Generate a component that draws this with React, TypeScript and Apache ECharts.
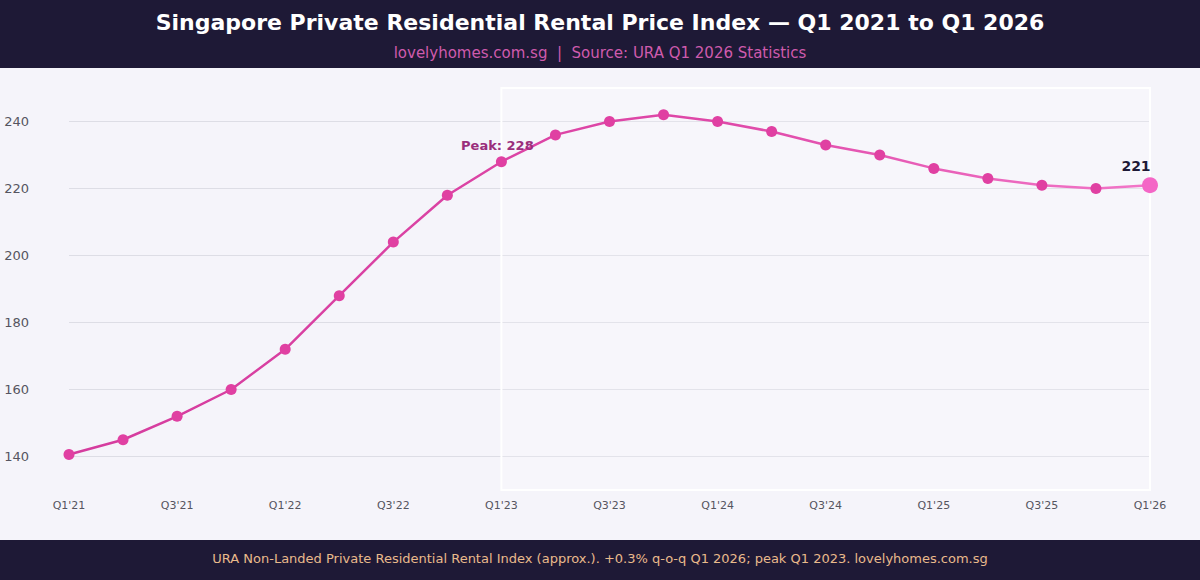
import React, { useEffect, useRef } from "react";
import * as echarts from "echarts";

// Quarterly rental index, Q1 2021 – Q1 2026
const quarters = [
  "Q1'21", "Q2'21", "Q3'21", "Q4'21",
  "Q1'22", "Q2'22", "Q3'22", "Q4'22",
  "Q1'23", "Q2'23", "Q3'23", "Q4'23",
  "Q1'24", "Q2'24", "Q3'24", "Q4'24",
  "Q1'25", "Q2'25", "Q3'25", "Q4'25",
  "Q1'26",
];
const rentalIndex = [
  140.6, 145, 152, 160,
  172, 188, 204, 218,
  228, 236, 240, 242,
  240, 237, 233, 230,
  226, 223, 221, 220,
  221,
];
const yTicks = [140, 160, 180, 200, 220, 240];
const peakQuarter = "Q1'23";
const latestQuarter = "Q1'26";

const TITLE = "Singapore Private Residential Rental Price Index — Q1 2021 to Q1 2026";
const SUBTITLE = "lovelyhomes.com.sg  |  Source: URA Q1 2026 Statistics";
const FOOTER =
  "URA Non-Landed Private Residential Rental Index (approx.). +0.3% q-o-q Q1 2026; peak Q1 2023. lovelyhomes.com.sg";

const FONT = "DejaVu Sans";
const NAVY = "#1e1936";

export default function App() {
  const ref = useRef<HTMLDivElement>(null);

  useEffect(() => {
    if (!ref.current) return;
    const chart = echarts.init(ref.current, undefined, { renderer: "svg" });

    const peakIdx = quarters.indexOf(peakQuarter);
    const lastIdx = quarters.indexOf(latestQuarter);

    const seriesData = rentalIndex.map((v, i) => {
      if (i === peakIdx) {
        return {
          value: v,
          label: {
            show: true,
            position: "top",
            distance: 4,
            offset: [-4, 0],
            formatter: `Peak: ${v}`,
            color: "#9a2e7c",
            fontWeight: "bold",
            fontSize: 13,
            fontFamily: FONT,
          },
        };
      }
      if (i === lastIdx) {
        return {
          value: v,
          symbolSize: 16,
          itemStyle: { color: "#f466c6" },
          label: {
            show: true,
            position: "top",
            distance: 4,
            offset: [-14, 0],
            formatter: `${v}`,
            color: NAVY,
            fontWeight: "bold",
            fontSize: 14,
            fontFamily: FONT,
          },
        };
      }
      return v;
    });

    chart.setOption({
      animation: false,
      backgroundColor: "#f5f4fa",
      textStyle: { fontFamily: FONT },
      graphic: [
        {
          type: "rect",
          z: 0,
          shape: { x: 0, y: 0, width: 1200, height: 68 },
          style: { fill: NAVY },
        },
        {
          type: "rect",
          z: 0,
          shape: { x: 0, y: 540, width: 1200, height: 40 },
          style: { fill: NAVY },
        },
      ],
      title: [
        {
          text: TITLE,
          left: "center",
          top: 6,
          z: 10,
          textStyle: {
            color: "#ffffff",
            fontSize: 22,
            fontWeight: "bold",
            fontFamily: FONT,
          },
        },
        {
          text: SUBTITLE,
          left: "center",
          top: 40,
          z: 10,
          textStyle: {
            color: "#cf5bad",
            fontSize: 15,
            fontWeight: "normal",
            fontFamily: FONT,
          },
        },
        {
          text: FOOTER,
          left: "center",
          top: 547,
          z: 10,
          textStyle: {
            color: "#e9ba8c",
            fontSize: 13,
            fontWeight: "normal",
            fontFamily: FONT,
          },
        },
      ],
      grid: { left: 69, right: 50, top: 88, bottom: 90 },
      xAxis: {
        type: "category",
        data: quarters,
        boundaryGap: false,
        axisLine: { show: false },
        axisTick: { show: false },
        splitLine: { show: false },
        axisLabel: {
          interval: 1,
          margin: 10,
          color: "#555560",
          fontSize: 11,
          fontFamily: FONT,
        },
      },
      yAxis: {
        type: "value",
        min: 130,
        max: 250,
        axisLine: { show: false },
        axisTick: { show: false, customValues: yTicks },
        axisLabel: {
          customValues: yTicks,
          margin: 40,
          color: "#555560",
          fontSize: 13,
          fontFamily: FONT,
        },
        splitLine: { show: true, lineStyle: { color: "#dddde5", width: 1 } },
      },
      series: [
        {
          type: "line",
          data: seriesData,
          smooth: false,
          symbol: "circle",
          symbolSize: 11,
          itemStyle: { color: "#e040a2" },
          lineStyle: {
            width: 2.5,
            color: new echarts.graphic.LinearGradient(0, 0, 1, 0, [
              { offset: 0, color: "#d53c9e" },
              { offset: 0.6, color: "#df48a8" },
              { offset: 1, color: "#f276c8" },
            ]),
          },
          markArea: {
            silent: true,
            itemStyle: {
              color: "rgba(255,255,255,0.2)",
              borderColor: "#ffffff",
              borderWidth: 2,
            },
            data: [[{ xAxis: peakQuarter }, { xAxis: latestQuarter }]],
          },
          z: 3,
        },
      ],
    });

    return () => chart.dispose();
  }, []);

  return (
    <div
      ref={ref}
      style={{ position: "fixed", left: 0, top: 0, width: 1200, height: 580 }}
    />
  );
}
